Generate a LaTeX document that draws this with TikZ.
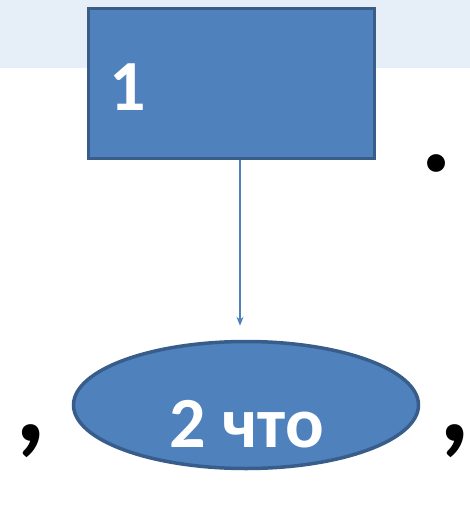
\documentclass[tikz,border=0pt]{standalone}
\usepackage{fontspec}
\setmainfont{Carlito}
\usetikzlibrary{shapes.geometric,arrows.meta}
\definecolor{boxblue}{RGB}{79,129,189}
\definecolor{edgeblue}{RGB}{56,93,138}
\definecolor{skyblue}{RGB}{230,238,247}
\tikzset{shapebox/.style={fill=boxblue,draw=edgeblue,line width=3.5pt,inner sep=0pt},
  bigtext/.style={text=white,inner sep=0pt,font=\bfseries\fontsize{72}{76}\selectfont},
  punct/.style={inner sep=0pt,font=\bfseries\fontsize{120}{120}\selectfont}}

\begin{document}
\begin{tikzpicture}[x=1pt,y=-1pt]
   \useasboundingbox (0,0) rectangle (470,509);
   \fill[skyblue] (0,0) rectangle (470,68);

   \node[shapebox,rectangle,minimum width=286pt,minimum height=150pt] (box1) at (231.5,83.5) {};
   \node[bigtext,anchor=base west] (num1) at (109,110) {1};

   \node[shapebox,ellipse,minimum width=345pt,minimum height=127pt] (oval) at (246,405) {};
   \node[bigtext,anchor=base] (what2) at (247,447) {2 что};

   \node[punct,anchor=base] (dot) at (437,171) {.};
   \node[punct,anchor=base] (commaL) at (31,441) {,};
   \node[punct,anchor=base] (commaR) at (455,441) {,};

   \draw[boxblue,line width=1.5pt,shorten >=14pt,-{Stealth[length=9pt,width=7pt]}]
      ([xshift=8.5pt]box1.south) -- ([xshift=8.5pt]box1.south |- oval.north);
\end{tikzpicture}
\end{document}
